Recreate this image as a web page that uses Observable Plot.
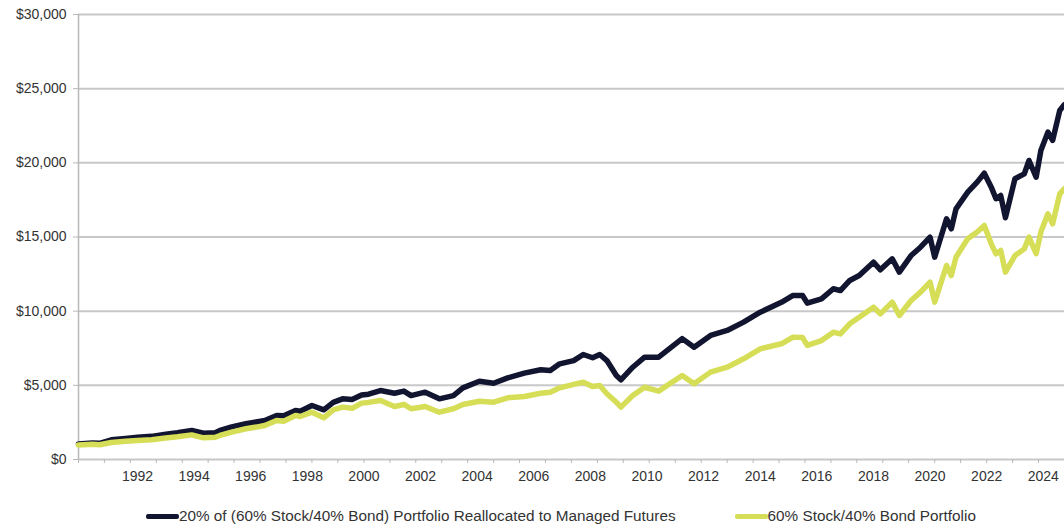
<!DOCTYPE html>
<html>
<head>
<meta charset="utf-8">
<script src="https://cdn.jsdelivr.net/npm/d3@7"></script>
<script src="https://cdn.jsdelivr.net/npm/@observablehq/plot@0.6"></script>
<style>
  html, body { margin: 0; padding: 0; background: #fff; }
  body { width: 1064px; height: 527px; overflow: hidden; font-family: "Liberation Sans", Arial, sans-serif; }
  #legend { display: flex; align-items: center; margin-left: 146px; margin-top: 17px; font-size: 15.3px; color: #333; white-space: nowrap; }
  .item { display: flex; align-items: center; margin-right: 59px; }
  .sw { width: 33px; height: 5px; border-radius: 2px; }
</style>
</head>
<body>
<div id="chart"></div>
<div id="legend"></div>
<script>
const seriesNames = ["20% of (60% Stock/40% Bond) Portfolio Reallocated to Managed Futures", "60% Stock/40% Bond Portfolio"];
const seriesColors = ["#121530", "#d6de58"];

const dates = [
  "1990-01","1990-07","1990-10","1991-03","1991-09","1992-02","1992-08","1993-02","1993-07","1994-01",
  "1994-06","1994-11","1995-01","1995-06","1995-12","1996-05","1996-08","1997-01","1997-04","1997-09",
  "1997-11","1998-04","1998-09","1999-01","1999-05","1999-09","2000-01","2000-04","2000-09","2001-03",
  "2001-07","2001-10","2002-04","2002-10","2003-04","2003-08","2004-03","2004-09","2005-03","2005-10",
  "2006-05","2006-09","2007-01","2007-07","2007-11","2008-03","2008-06","2008-09","2009-01","2009-03",
  "2009-08","2010-01","2010-07","2011-05","2011-10","2012-05","2012-12","2013-07","2014-02","2014-11",
  "2015-04","2015-08","2015-10","2016-04","2016-09","2016-12","2017-04","2017-08","2018-02","2018-05",
  "2018-10","2019-01","2019-06","2019-10","2020-02","2020-04","2020-09","2020-11","2021-01","2021-06",
  "2021-10","2022-01","2022-04","2022-06","2022-08","2022-10","2023-02","2023-06","2023-08","2023-11",
  "2024-01","2024-04","2024-06","2024-09","2024-11"
];

const managedFutures = [
  1050,1120,1090,1330,1420,1500,1560,1700,1800,1960,
  1770,1800,1960,2200,2410,2550,2630,2970,2950,3300,
  3250,3640,3350,3850,4090,4050,4350,4400,4650,4470,
  4610,4310,4540,4090,4310,4830,5280,5140,5500,5820,
  6050,6000,6450,6670,7080,6860,7080,6670,5660,5370,
  6220,6900,6900,8150,7570,8360,8700,9260,9930,10600,
  11060,11060,10540,10830,11510,11390,12070,12400,13300,12790,
  13530,12630,13750,14310,14990,13640,16230,15550,16900,18020,
  18700,19300,18360,17580,17800,16300,18930,19260,20160,19030,
  20830,22070,21510,23530,23930
];

const stockBond = [
  980,1030,990,1150,1230,1280,1330,1450,1530,1660,
  1460,1500,1620,1850,2070,2200,2290,2630,2580,2970,
  2900,3190,2810,3350,3530,3450,3800,3850,3980,3570,
  3710,3420,3570,3190,3420,3710,3930,3860,4160,4250,
  4470,4540,4830,5060,5210,4920,4990,4430,3860,3530,
  4310,4870,4610,5660,5100,5890,6220,6790,7460,7800,
  8250,8220,7690,8020,8580,8470,9150,9590,10270,9820,
  10610,9710,10720,11280,11950,10610,13080,12400,13640,14880,
  15330,15780,14540,13870,14090,12630,13750,14200,14990,13870,
  15330,16560,15890,17910,18270
];

const yTicks = [0, 5000, 10000, 15000, 20000, 25000, 30000];
const labelYears = [1992,1994,1996,1998,2000,2002,2004,2006,2008,2010,2012,2014,2016,2018,2020,2022,2024];

const parse = d3.utcParse("%Y-%m");
const rows = dates.flatMap((d, i) => [
  {date: parse(d), value: managedFutures[i], series: seriesNames[0]},
  {date: parse(d), value: stockBond[i], series: seriesNames[1]}
]);

const xDomain = [new Date(Date.UTC(1990, 0, 1)), new Date(Date.UTC(2024, 10, 1))];
const minorTicks = d3.range(0, 39).map(k => new Date(Date.UTC(1990, k * 11, 1)));
const labelTicks = labelYears.map(y => new Date(Date.UTC(y, 1, 1)));

const chart = Plot.plot({
  width: 1064,
  height: 490,
  marginLeft: 78,
  marginRight: 0,
  marginTop: 14,
  marginBottom: 31,
  style: {fontFamily: "'Liberation Sans', Arial, sans-serif", fontSize: "14px", color: "#333", background: "#fff"},
  x: {type: "utc", domain: xDomain},
  y: {domain: [0, 30000]},
  marks: [
    Plot.gridY(yTicks, {stroke: "#c8c8c8", strokeOpacity: 1, strokeWidth: 2}),
    Plot.ruleX([xDomain[0]], {stroke: "#b8b8b8", strokeWidth: 1.5}),
    Plot.axisY({ticks: yTicks, tickSize: 5, tickPadding: 7, stroke: "#b8b8b8", fill: "#333", label: null,
      tickFormat: d => "$" + d3.format(",")(d)}),
    Plot.axisX({ticks: minorTicks, tickSize: 4, stroke: "#b8b8b8", tickFormat: () => "", label: null}),
    Plot.axisX({ticks: labelTicks, tickSize: 0, tickPadding: 12, fill: "#333", tickFormat: d3.utcFormat("%Y"), label: null}),
    Plot.line(rows.filter(r => r.series === seriesNames[0]), {x: "date", y: "value", stroke: seriesColors[0], strokeWidth: 5.5, strokeLinejoin: "round"}),
    Plot.line(rows.filter(r => r.series === seriesNames[1]), {x: "date", y: "value", stroke: seriesColors[1], strokeWidth: 5.5, strokeLinejoin: "round"})
  ]
});
document.getElementById("chart").appendChild(chart);

const legend = document.getElementById("legend");
seriesNames.forEach((name, i) => {
  const item = document.createElement("div");
  item.className = "item";
  const sw = document.createElement("div");
  sw.className = "sw";
  sw.style.background = seriesColors[i];
  const t = document.createElement("span");
  t.textContent = name;
  item.appendChild(sw);
  item.appendChild(t);
  legend.appendChild(item);
});
</script>
</body>
</html>
